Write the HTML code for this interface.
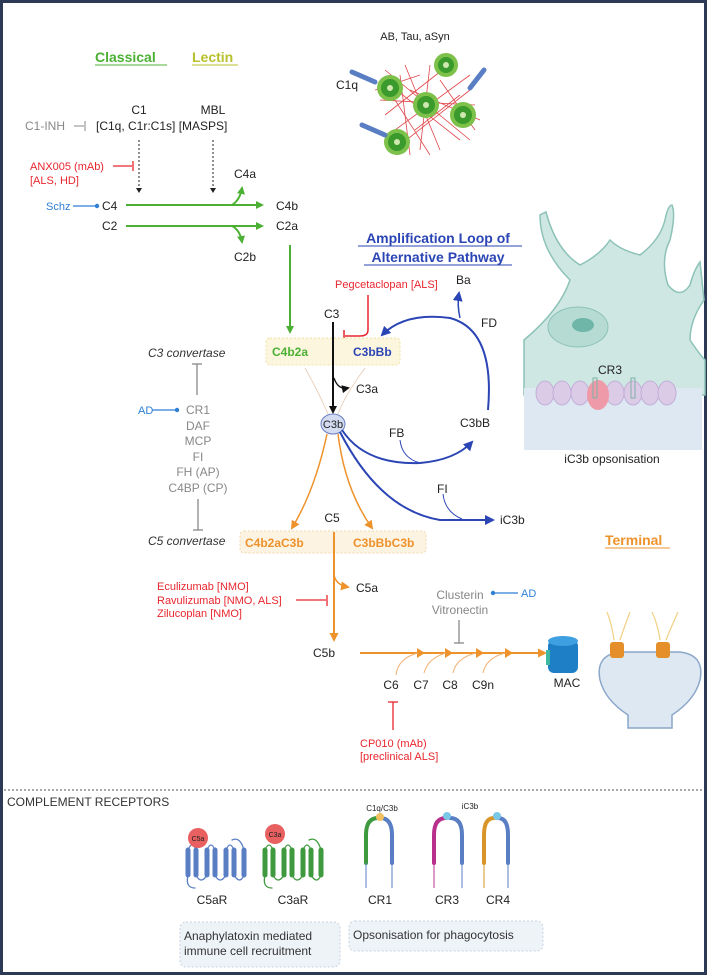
<!DOCTYPE html>
<html><head><meta charset="utf-8"><style>
html,body{margin:0;padding:0;background:#fff}
svg{display:block}
text{font-family:"Liberation Sans",sans-serif;font-size:11px;fill:#222}
.g{fill:#888}.r{fill:#e8262e}.b{fill:#2f7fd6}
</style></head><body>
<svg width="707" height="975" viewBox="0 0 707 975" xmlns="http://www.w3.org/2000/svg">
<defs>
<marker id="ag" markerWidth="8" markerHeight="8" refX="6" refY="4" orient="auto" markerUnits="userSpaceOnUse"><path d="M0,0L8,4L0,8z" fill="#4cb035"/></marker>
<marker id="ak" markerWidth="8" markerHeight="8" refX="6" refY="4" orient="auto" markerUnits="userSpaceOnUse"><path d="M0,0L8,4L0,8z" fill="#111"/></marker>
<marker id="ao" markerWidth="9" markerHeight="9" refX="7" refY="4.5" orient="auto" markerUnits="userSpaceOnUse"><path d="M0,0L9,4.5L0,9z" fill="#ee922c"/></marker>
<marker id="ab" markerWidth="10" markerHeight="10" refX="8" refY="5" orient="auto" markerUnits="userSpaceOnUse"><path d="M0,0L10,5L0,10z" fill="#2b45b5"/></marker>
<marker id="as" markerWidth="5" markerHeight="6" refX="4" refY="3" orient="auto" markerUnits="userSpaceOnUse"><path d="M0,0L5,3L0,6z" fill="#222"/></marker>
</defs>
<rect x="1.5" y="1.5" width="704" height="972" fill="#fff" stroke="#2d3a55" stroke-width="3"/>

<text x="415" y="40" text-anchor="middle">AB, Tau, aSyn</text>
<text x="95" y="62" style="font-size:14px;font-weight:bold;fill:#4cb035">Classical</text>
<line x1="95" y1="65" x2="167" y2="65" stroke="#4cb035"/>
<text x="192" y="62" style="font-size:14px;font-weight:bold;fill:#b8c12c">Lectin</text>
<line x1="192" y1="65" x2="238" y2="65" stroke="#b8c12c"/>

<g stroke="#e0464a" stroke-width="0.8" fill="none">
<path d="M385,70L470,140M395,130L470,75M380,100L475,105M405,65L440,150M430,65L420,150M390,85L460,140M400,145L470,90M385,115L455,60M410,90L480,120M395,100L430,155M440,80L475,130M375,90L420,75M415,130L460,95M400,75L410,155"/>
</g>
<g fill="#7dc04a"><circle cx="390" cy="88" r="13"/><circle cx="446" cy="65" r="12"/><circle cx="426" cy="105" r="13"/><circle cx="463" cy="115" r="13"/><circle cx="397" cy="142" r="13"/></g>
<g fill="#3a9a2c"><circle cx="390" cy="88" r="9"/><circle cx="446" cy="65" r="8"/><circle cx="426" cy="105" r="9"/><circle cx="463" cy="115" r="9"/><circle cx="397" cy="142" r="9"/></g>
<g fill="#cfe8b0"><circle cx="390" cy="88" r="3"/><circle cx="446" cy="65" r="3"/><circle cx="426" cy="105" r="3"/><circle cx="463" cy="115" r="3"/><circle cx="397" cy="142" r="3"/></g>
<g stroke="#5a7ec4" stroke-width="5" stroke-linecap="round"><line x1="352" y1="72" x2="375" y2="82"/><line x1="484" y1="70" x2="470" y2="88"/><line x1="362" y1="125" x2="385" y2="135"/></g>
<text x="336" y="89" style="font-size:12px">C1q</text>

<text x="139" y="114" text-anchor="middle" style="font-size:12px">C1</text>
<text x="213" y="114" text-anchor="middle" style="font-size:12px">MBL</text>
<text x="25" y="130" class="g" style="font-size:12px">C1-INH</text>
<line x1="74" y1="126" x2="84" y2="126" stroke="#888"/><line x1="85" y1="121" x2="85" y2="131" stroke="#888"/>
<text x="96" y="130" style="font-size:12px">[C1q, C1r:C1s] [MASPS]</text>
<line x1="139" y1="140" x2="139" y2="192" stroke="#222" stroke-dasharray="2,2" marker-end="url(#as)"/>
<line x1="213" y1="140" x2="213" y2="192" stroke="#222" stroke-dasharray="2,2" marker-end="url(#as)"/>
<text x="30" y="170" class="r">ANX005 (mAb)</text>
<text x="30" y="184" class="r">[ALS, HD]</text>
<line x1="113" y1="166" x2="132" y2="166" stroke="#e8262e" stroke-width="1.3"/><line x1="133" y1="161" x2="133" y2="171" stroke="#e8262e" stroke-width="1.3"/>

<text x="46" y="210" class="b">Schz</text>
<line x1="73" y1="206" x2="96" y2="206" stroke="#2f7fd6" stroke-width="1.3"/><circle cx="97" cy="206" r="2.2" fill="#2f7fd6"/>
<text x="102" y="210" style="font-size:12px">C4</text>
<line x1="126" y1="205" x2="262" y2="205" stroke="#4cb035" stroke-width="2" marker-end="url(#ag)"/>
<path d="M232,205Q240,200 242,188" stroke="#4cb035" stroke-width="2" fill="none" marker-end="url(#ag)"/>
<text x="234" y="178" style="font-size:12px">C4a</text>
<text x="276" y="210" style="font-size:12px">C4b</text>
<text x="102" y="230" style="font-size:12px">C2</text>
<line x1="126" y1="226" x2="262" y2="226" stroke="#4cb035" stroke-width="2" marker-end="url(#ag)"/>
<path d="M232,226Q240,230 242,242" stroke="#4cb035" stroke-width="2" fill="none" marker-end="url(#ag)"/>
<text x="234" y="261" style="font-size:12px">C2b</text>
<text x="276" y="230" style="font-size:12px">C2a</text>
<line x1="290" y1="245" x2="290" y2="332" stroke="#4cb035" stroke-width="2" marker-end="url(#ag)"/>

<text x="438" y="243" text-anchor="middle" style="font-size:14px;font-weight:bold;fill:#2b45b5">Amplification Loop of</text>
<line x1="358" y1="246" x2="522" y2="246" stroke="#2b45b5"/>
<text x="438" y="262" text-anchor="middle" style="font-size:14px;font-weight:bold;fill:#2b45b5">Alternative Pathway</text>
<line x1="364" y1="265" x2="512" y2="265" stroke="#2b45b5"/>
<text x="335" y="288" class="r">Pegcetaclopan [ALS]</text>
<text x="456" y="284" style="font-size:12px">Ba</text>
<text x="481" y="327" style="font-size:12px">FD</text>
<text x="324" y="318" style="font-size:12px">C3</text>
<path d="M368,295L368,330Q368,336 360,336L345,336" stroke="#e8262e" stroke-width="1.5" fill="none"/>
<line x1="344" y1="330" x2="344" y2="342" stroke="#e8262e" stroke-width="1.5"/>

<path d="M524,340Q560,310 570,280Q540,250 540,215L546,212Q556,250 580,265Q600,255 610,240Q620,250 640,255Q660,240 665,220Q668,205 672,205Q676,215 670,240Q660,260 668,285Q680,300 690,285Q694,270 700,262L704,300Q690,320 690,340Q700,355 705,360L705,395L524,395Z" fill="#cfe7e2" stroke="#8cc2b7" stroke-width="1.5"/>
<ellipse cx="578" cy="327" rx="30" ry="20" fill="#b5dbd3" stroke="#8cc2b7"/>
<ellipse cx="583" cy="325" rx="11" ry="7" fill="#6fb6a8"/>
<rect x="524" y="388" width="178" height="62" fill="#dde8f2"/>
<g fill="#dccbe6" stroke="#c2afd8"><ellipse cx="545" cy="393" rx="9" ry="12"/><ellipse cx="562" cy="393" rx="9" ry="12"/><ellipse cx="580" cy="393" rx="9" ry="12"/><ellipse cx="615" cy="393" rx="9" ry="12"/><ellipse cx="633" cy="393" rx="9" ry="12"/><ellipse cx="650" cy="393" rx="9" ry="12"/><ellipse cx="667" cy="393" rx="9" ry="12"/></g>
<ellipse cx="598" cy="395" rx="11" ry="15" fill="#ef9aa8"/>
<g stroke="#7fb1a8" fill="none"><rect x="593" y="378" width="4" height="20"/><rect x="631" y="378" width="4" height="20"/></g>
<text x="598" y="374" style="font-size:12px">CR3</text>
<text x="612" y="463" text-anchor="middle" style="font-size:12px">iC3b opsonisation</text>

<rect x="266" y="338" width="134" height="27" rx="4" fill="#fdf6df" stroke="#f0e0a0" stroke-dasharray="2,2"/>
<text x="272" y="356" style="font-size:12px;font-weight:bold;fill:#4cb035">C4b2a</text>
<text x="353" y="356" style="font-size:12px;font-weight:bold;fill:#2b45b5">C3bBb</text>
<text x="148" y="357" style="font-size:12px;font-style:italic;fill:#333">C3 convertase</text>
<line x1="197" y1="364" x2="197" y2="395" stroke="#888" stroke-width="1.3"/><line x1="192" y1="364" x2="202" y2="364" stroke="#888" stroke-width="1.3"/>
<path d="M305,368Q320,395 328,414M365,368Q345,395 338,414" stroke="#e8c9b0" stroke-width="0.8" fill="none"/>
<line x1="333" y1="322" x2="333" y2="412" stroke="#111" stroke-width="2" marker-end="url(#ak)"/>
<path d="M334,378Q338,390 348,388" stroke="#111" stroke-width="1.3" fill="none" marker-end="url(#ak)"/>
<text x="356" y="393" style="font-size:12px">C3a</text>
<ellipse cx="333" cy="424" rx="12" ry="10" fill="#d4dcf2" stroke="#6b7fc4"/>
<text x="333" y="428" text-anchor="middle" style="font-size:11px">C3b</text>

<text x="138" y="414" class="b">AD</text>
<line x1="152" y1="410" x2="176" y2="410" stroke="#2f7fd6" stroke-width="1.3"/><circle cx="177" cy="410" r="2.2" fill="#2f7fd6"/>
<text x="198" y="414" text-anchor="middle" class="g" style="font-size:12px">CR1</text>
<text x="198" y="430" text-anchor="middle" class="g" style="font-size:12px">DAF</text>
<text x="198" y="445" text-anchor="middle" class="g" style="font-size:12px">MCP</text>
<text x="198" y="461" text-anchor="middle" class="g" style="font-size:12px">FI</text>
<text x="198" y="476" text-anchor="middle" class="g" style="font-size:12px">FH (AP)</text>
<text x="198" y="492" text-anchor="middle" class="g" style="font-size:12px">C4BP (CP)</text>
<line x1="198" y1="499" x2="198" y2="530" stroke="#888" stroke-width="1.3"/><line x1="193" y1="530" x2="203" y2="530" stroke="#888" stroke-width="1.3"/>

<path d="M488,410Q495,330 450,318Q405,312 382,335" stroke="#2b45b5" stroke-width="2" fill="none" marker-end="url(#ab)"/>
<path d="M460,318Q457,305 459,293" stroke="#2b45b5" stroke-width="1.5" fill="none" marker-end="url(#ab)"/>
<path d="M342,430Q365,465 420,463Q455,460 472,442" stroke="#2b45b5" stroke-width="2" fill="none" marker-end="url(#ab)"/>
<path d="M400,440Q402,458 420,463" stroke="#2b45b5" stroke-width="1" fill="none"/>
<text x="389" y="437" style="font-size:12px">FB</text>
<text x="460" y="427" style="font-size:12px">C3bB</text>
<path d="M340,432Q380,510 440,520L493,520" stroke="#2b45b5" stroke-width="2" fill="none" marker-end="url(#ab)"/>
<path d="M443,494Q445,512 462,519" stroke="#2b45b5" stroke-width="1" fill="none"/>
<text x="437" y="493" style="font-size:12px">FI</text>
<text x="500" y="524" style="font-size:12px">iC3b</text>

<path d="M327,434Q315,490 292,528" stroke="#ee922c" stroke-width="1.5" fill="none" marker-end="url(#ao)"/>
<path d="M338,434Q345,490 372,528" stroke="#ee922c" stroke-width="1.5" fill="none" marker-end="url(#ao)"/>
<text x="332" y="522" text-anchor="middle" style="font-size:12px">C5</text>
<rect x="240" y="531" width="186" height="22" rx="4" fill="#fdf3e2" stroke="#f3d8a8" stroke-dasharray="2,2"/>
<text x="245" y="547" style="font-size:12px;font-weight:bold;fill:#ee922c">C4b2aC3b</text>
<text x="353" y="547" style="font-size:12px;font-weight:bold;fill:#ee922c">C3bBbC3b</text>
<text x="148" y="545" style="font-size:12px;font-style:italic;fill:#333">C5 convertase</text>
<text x="605" y="545" style="font-size:14px;font-weight:bold;fill:#ee922c">Terminal</text>
<line x1="605" y1="548" x2="670" y2="548" stroke="#ee922c"/>

<line x1="334" y1="532" x2="334" y2="640" stroke="#ee922c" stroke-width="2" marker-end="url(#ao)"/>
<path d="M334,575Q336,585 348,587" stroke="#ee922c" stroke-width="1.5" fill="none" marker-end="url(#ao)"/>
<text x="356" y="592" style="font-size:12px">C5a</text>
<text x="157" y="590" class="r">Eculizumab [NMO]</text>
<text x="157" y="604" class="r">Ravulizumab [NMO, ALS]</text>
<text x="157" y="617" class="r">Zilucoplan [NMO]</text>
<line x1="296" y1="600" x2="326" y2="600" stroke="#e8262e" stroke-width="1.3"/><line x1="327" y1="595" x2="327" y2="606" stroke="#e8262e" stroke-width="1.3"/>

<text x="460" y="599" text-anchor="middle" class="g" style="font-size:12px">Clusterin</text>
<text x="460" y="614" text-anchor="middle" class="g" style="font-size:12px">Vitronectin</text>
<circle cx="493" cy="593" r="2.2" fill="#2f7fd6"/><line x1="493" y1="593" x2="518" y2="593" stroke="#2f7fd6" stroke-width="1.3"/>
<text x="521" y="597" class="b">AD</text>
<line x1="459" y1="620" x2="459" y2="643" stroke="#888" stroke-width="1.3"/><line x1="454" y1="643" x2="464" y2="643" stroke="#888" stroke-width="1.3"/>

<text x="324" y="657" text-anchor="middle" style="font-size:12px">C5b</text>
<line x1="360" y1="653" x2="545" y2="653" stroke="#ee922c" stroke-width="2" marker-end="url(#ao)"/>
<g fill="#ee922c"><path d="M417,648L425,653L417,658z"/><path d="M445,648L453,653L445,658z"/><path d="M476,648L484,653L476,658z"/><path d="M505,648L513,653L505,658z"/></g>
<g stroke="#f0b070" fill="none"><path d="M396,675Q398,658 418,653"/><path d="M424,673Q428,658 446,653"/><path d="M453,673Q456,658 476,653"/><path d="M483,673Q486,658 505,653"/></g>
<text x="391" y="689" text-anchor="middle" style="font-size:12px">C6</text>
<text x="421" y="689" text-anchor="middle" style="font-size:12px">C7</text>
<text x="450" y="689" text-anchor="middle" style="font-size:12px">C8</text>
<text x="483" y="689" text-anchor="middle" style="font-size:12px">C9n</text>
<rect x="548" y="640" width="30" height="33" rx="6" fill="#1f7fc6"/>
<ellipse cx="563" cy="641" rx="15" ry="5" fill="#3ea0e0"/>
<rect x="546" y="650" width="4" height="15" fill="#3cb9a0"/>
<text x="567" y="687" text-anchor="middle" style="font-size:12px">MAC</text>
<path d="M600,680Q595,655 620,652L680,652Q705,655 700,680Q695,700 672,715L672,728L628,728L628,715Q605,700 600,680Z" fill="#dde8f2" stroke="#8aa6c8" stroke-width="1.5"/>
<rect x="610" y="642" width="14" height="16" rx="3" fill="#e58f2a"/><rect x="656" y="642" width="14" height="16" rx="3" fill="#e58f2a"/>
<g stroke="#f2d28a" fill="none" stroke-width="1.3"><path d="M614,640Q612,625 607,612M620,640Q625,625 630,612M660,640Q658,625 652,612M666,640Q672,625 678,612"/></g>

<line x1="393" y1="702" x2="393" y2="730" stroke="#e8262e" stroke-width="1.3"/><line x1="388" y1="702" x2="398" y2="702" stroke="#e8262e" stroke-width="1.3"/>
<text x="360" y="747" class="r">CP010 (mAb)</text>
<text x="360" y="760" class="r">[preclinical ALS]</text>

<line x1="4" y1="790" x2="703" y2="790" stroke="#555" stroke-dasharray="2,2"/>
<text x="7" y="806" style="font-size:12px;fill:#333">COMPLEMENT RECEPTORS</text>
<g stroke-linecap="round" fill="none">
<g stroke="#5a7ec4" stroke-width="5"><path d="M188,850V875M196,850V875M207,850V875M215,850V875M226,850V875M234,850V875M244,850V875"/></g>
<g stroke="#5a7ec4" stroke-width="1.3"><path d="M188,850Q192,840 196,850M196,875Q201,885 207,875M207,850Q211,840 215,850M215,875Q220,885 226,875M226,850Q230,840 234,850M234,875Q240,885 244,875M244,850Q240,836 232,840M188,875Q185,888 195,888"/></g>
<g stroke="#3f9a3f" stroke-width="5"><path d="M265,850V875M273,850V875M284,850V875M292,850V875M303,850V875M311,850V875M321,850V875"/></g>
<g stroke="#3f9a3f" stroke-width="1.3"><path d="M265,850Q269,840 273,850M273,875Q278,885 284,875M284,850Q288,840 292,850M292,875Q297,885 303,875M303,850Q307,840 311,850M311,875Q317,885 321,875M321,850Q317,836 309,840M265,875Q262,888 272,888"/></g>
</g>
<circle cx="198" cy="838" r="10" fill="#e86060"/><text x="198" y="841" text-anchor="middle" style="font-size:7px">C5a</text>
<circle cx="275" cy="834" r="10" fill="#e86060"/><text x="275" y="837" text-anchor="middle" style="font-size:7px">C3a</text>
<g fill="none" stroke-width="4" stroke-linecap="round">
<path d="M366,863V835Q366,818 378,818" stroke="#3f9a3f"/><path d="M392,863V835Q392,818 380,818" stroke="#5a7ec4"/>
<path d="M434,863V835Q434,818 446,818" stroke="#b8308c"/><path d="M462,863V835Q462,818 450,818" stroke="#5a7ec4"/>
<path d="M484,863V835Q484,818 494,818" stroke="#d8962a"/><path d="M508,863V835Q508,818 498,818" stroke="#5a7ec4"/>
</g>
<g stroke-width="1"><path d="M366,863V888M392,863V888" stroke="#5a7ec4"/><path d="M434,863V888" stroke="#b8308c"/><path d="M462,863V888M508,863V888" stroke="#5a7ec4"/><path d="M484,863V888" stroke="#d8962a"/></g>
<circle cx="380" cy="817" r="4" fill="#f2c060"/><circle cx="447" cy="816" r="4" fill="#7ac8e6"/><circle cx="497" cy="816" r="4" fill="#7ac8e6"/>
<text x="382" y="811" text-anchor="middle" style="font-size:8px">C1q/C3b</text>
<text x="470" y="809" text-anchor="middle" style="font-size:8px">iC3b</text>
<text x="212" y="904" text-anchor="middle" style="font-size:12px">C5aR</text>
<text x="293" y="904" text-anchor="middle" style="font-size:12px">C3aR</text>
<text x="380" y="904" text-anchor="middle" style="font-size:12px">CR1</text>
<text x="447" y="904" text-anchor="middle" style="font-size:12px">CR3</text>
<text x="498" y="904" text-anchor="middle" style="font-size:12px">CR4</text>
<rect x="180" y="922" width="160" height="45" rx="6" fill="#eef3f8" stroke="#c6d3e2" stroke-dasharray="2,2"/>
<text x="184" y="940" style="font-size:12px;fill:#333">Anaphylatoxin mediated</text>
<text x="184" y="955" style="font-size:12px;fill:#333">immune cell recruitment</text>
<rect x="349" y="921" width="194" height="30" rx="6" fill="#eef3f8" stroke="#c6d3e2" stroke-dasharray="2,2"/>
<text x="353" y="939" style="font-size:12px;fill:#333">Opsonisation for phagocytosis</text>
</svg>
</body></html>
